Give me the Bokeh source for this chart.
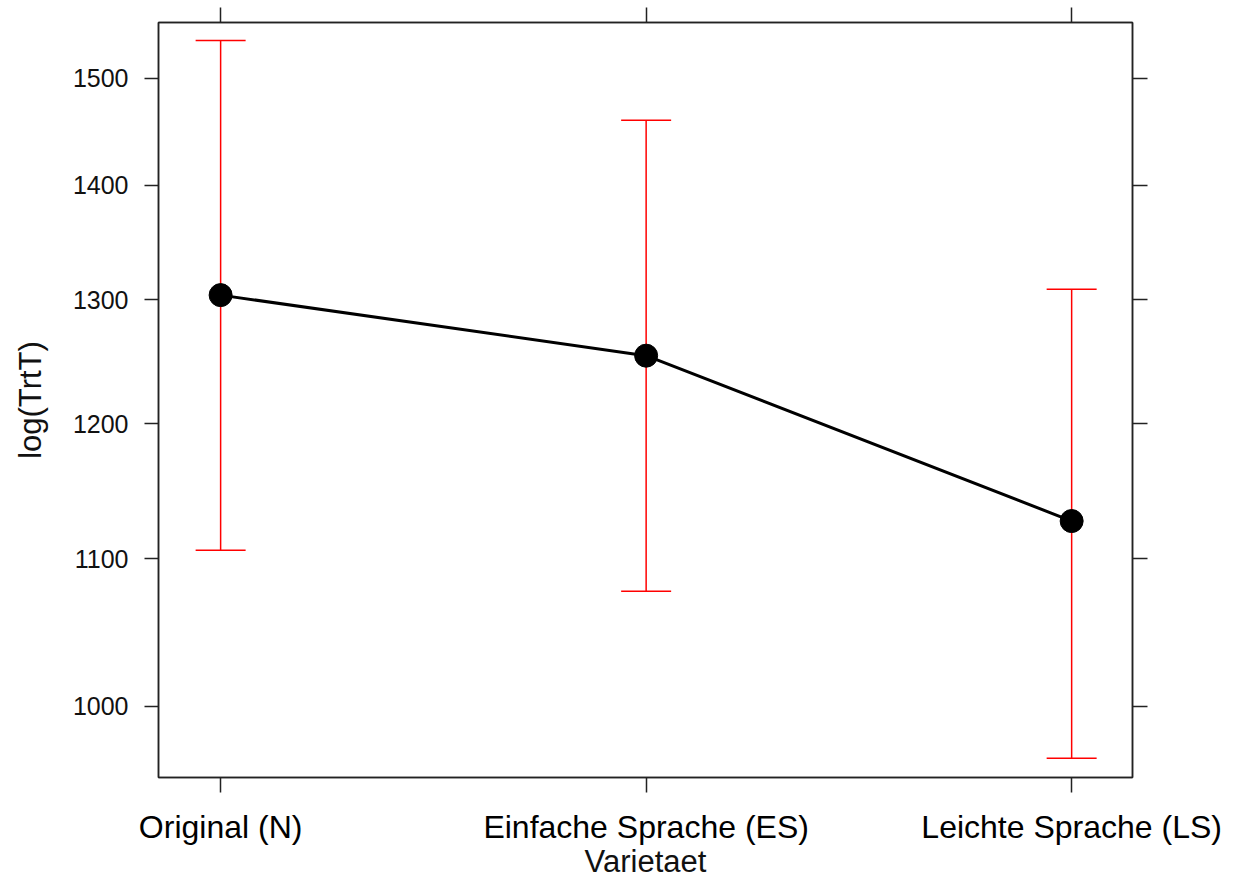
from bokeh.plotting import figure
from bokeh.models import Range1d, FixedTicker, LinearAxis, LogAxis, Whisker, TeeHead, ColumnDataSource
from bokeh.embed import file_html
from bokeh.resources import INLINE

categories = ["Original (N)", "Einfache Sprache (ES)", "Leichte Sprache (LS)"]
positions = [1, 2, 3]
fit = [1304, 1254, 1127]
lower = [1106, 1077, 967]
upper = [1537, 1460, 1309]
y_ticks = [1000, 1100, 1200, 1300, 1400, 1500]

FONT = "Liberation Sans"

p = figure(width=1232, height=881, output_backend="svg", toolbar_location=None,
           y_axis_type="log", x_range=Range1d(0.854, 3.143), y_range=Range1d(955, 1555),
           min_border_left=158, min_border_right=100, min_border_top=22, min_border_bottom=104)
p.grid.visible = False
p.outline_line_color = "#222222"
p.outline_line_width = 1.5
p.background_fill_color = "white"
p.border_fill_color = "white"

src = ColumnDataSource(dict(x=positions, fit=fit, lower=lower, upper=upper))

w = Whisker(base="x", lower="lower", upper="upper", source=src,
            line_color="red", line_width=1.5,
            upper_head=TeeHead(size=50, line_color="red", line_width=1.5),
            lower_head=TeeHead(size=50, line_color="red", line_width=1.5))
p.add_layout(w)
p.line("x", "fit", source=src, line_color="black", line_width=3)
p.scatter("x", "fit", source=src, size=23, color="black")

# bottom axis
xa = p.xaxis[0]
xa.ticker = FixedTicker(ticks=positions)
xa.major_label_overrides = {pos: c for pos, c in zip(positions, categories)}
xa.major_label_text_font = FONT
xa.major_label_text_font_size = "32px"
xa.major_label_text_color = "black"
xa.major_label_standoff = 16
xa.axis_label = "Varietaet"
xa.axis_label_text_font = FONT
xa.axis_label_text_font_size = "31px"
xa.axis_label_text_font_style = "normal"
xa.axis_label_text_color = "#111111"
xa.axis_label_standoff = -4
xa.minor_tick_line_color = None
xa.major_tick_in = 0
xa.major_tick_out = 15
xa.major_tick_line_width = 1.5
xa.major_tick_line_color = "#222222"
xa.axis_line_width = 1.5
xa.axis_line_color = "#222222"

# left axis
ya = p.yaxis[0]
ya.ticker = FixedTicker(ticks=y_ticks)
ya.major_label_text_font = FONT
ya.major_label_text_font_size = "25px"
ya.major_label_text_color = "#111111"
ya.major_label_standoff = 16
ya.axis_label = "log(TrtT)"
ya.axis_label_text_font = FONT
ya.axis_label_text_font_size = "31px"
ya.axis_label_text_font_style = "normal"
ya.axis_label_text_color = "#111111"
ya.axis_label_standoff = 22
ya.minor_tick_line_color = None
ya.major_tick_in = 0
ya.major_tick_out = 14
ya.major_tick_line_width = 1.5
ya.major_tick_line_color = "#222222"
ya.axis_line_width = 1.5
ya.axis_line_color = "#222222"

top = LinearAxis(ticker=FixedTicker(ticks=positions),
                 major_label_overrides={pos: "" for pos in positions},
                 major_label_text_font_size="0px",
                 major_label_standoff=0, major_tick_in=0, major_tick_out=15,
                 major_tick_line_width=1.5, major_tick_line_color="#222222",
                 axis_line_width=1.5, axis_line_color="#222222", minor_tick_line_color=None)
p.add_layout(top, "above")
right = LogAxis(ticker=FixedTicker(ticks=y_ticks),
                major_label_overrides={t: "" for t in y_ticks},
                major_label_text_font_size="0px",
                major_label_standoff=0, major_tick_in=0, major_tick_out=15,
                major_tick_line_width=1.5, major_tick_line_color="#222222",
                axis_line_width=1.5, axis_line_color="#222222", minor_tick_line_color=None)
p.add_layout(right, "right")

open("out.html", "w").write(file_html(p, INLINE))
